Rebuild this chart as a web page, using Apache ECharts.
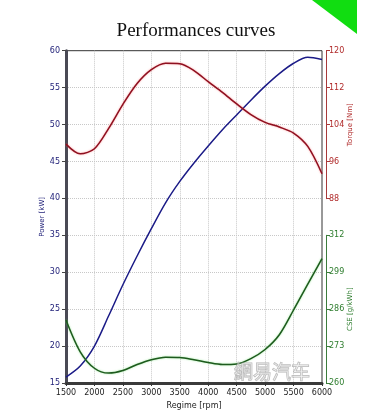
<!DOCTYPE html>
<html>
<head>
<meta charset="utf-8">
<script src="https://cdn.jsdelivr.net/npm/echarts@6/dist/echarts.min.js"></script>
<style>
  html, body { margin: 0; padding: 0; background: #fff; }
  #chart { width: 377px; height: 419px; }
</style>
</head>
<body>
<div id="chart"></div>
<script>
// 转速 (rpm)
var rpm = [1500, 1750, 2000, 2250, 2500, 2750, 3000, 3250, 3500, 3750,
           4000, 4250, 4500, 4750, 5000, 5250, 5500, 5750, 6000];
// 功率 Power [kW]
var power = [15.8, 17.3, 20.0, 24.1, 28.3, 32.2, 35.9, 39.4, 42.3, 44.8,
             47.1, 49.3, 51.3, 53.3, 55.2, 56.9, 58.3, 59.1, 58.8];
// 扭矩 Torque [Nm]
var torque = [99.8, 97.7, 98.8, 103.2, 108.4, 112.9, 115.9, 117.3, 117.2, 115.7,
              113.3, 111.0, 108.5, 106.2, 104.5, 103.5, 102.2, 99.3, 93.4];
// 油耗 CSE [g/kWh]
var cse = [282.2, 271.0, 265.2, 263.5, 264.4, 266.5, 268.2, 269.1, 269.0, 268.2,
           267.2, 266.5, 266.7, 268.6, 271.8, 277.0, 285.7, 294.8, 303.8];

var xTicks = [1500, 6000, 500];      // min, max, interval
var powerTicks = [15, 60, 5];
var torqueTicks = [88, 120, 8];
var cseTicks = [260, 312, 13];

function pairs(ys) {
    return rpm.map(function (x, i) { return [x, ys[i]]; });
}

var labelFont = 'DejaVu Sans';

function hiddenX(idx) {
    return {
        type: 'value', gridIndex: idx, min: xTicks[0], max: xTicks[1], interval: xTicks[2],
        show: false
    };
}

var dotted = { show: true, showMinLine: false, showMaxLine: false,
               lineStyle: { color: '#c8c8c8', type: 'dotted' } };

var chart = echarts.init(document.getElementById('chart'));

var option = {
    animation: false,
    grid: [
        { left: 66, right: 55, top: 50.7, bottom: 36, show: true, borderColor: '#333', borderWidth: 1 },
        { left: 66, right: 55, top: 50.7, height: 148 },
        { left: 66, right: 55, top: 235.3, bottom: 36 }
    ],
    xAxis: [
        {
            type: 'value', gridIndex: 0, min: xTicks[0], max: xTicks[1], interval: xTicks[2],
            name: 'Regime [rpm]', nameLocation: 'middle', nameGap: 17,
            nameTextStyle: { fontSize: 8, color: '#222', fontFamily: labelFont },
            axisLine: { lineStyle: { color: '#3a3a3a', width: 3 } },
            axisTick: { show: true, length: 3, lineStyle: { color: '#333' } },
            axisLabel: { fontSize: 8, color: '#222', fontFamily: labelFont, margin: 6,
                         formatter: function (v) { return String(v); } },
            splitLine: dotted
        },
        hiddenX(1),
        hiddenX(2)
    ],
    yAxis: [
        {
            type: 'value', gridIndex: 0, min: powerTicks[0], max: powerTicks[1], interval: powerTicks[2],
            name: 'Power [kW]', nameLocation: 'middle', nameGap: 20, nameRotate: 90,
            nameMoveOverlap: false,
            nameTextStyle: { fontSize: 7, color: '#23237a', fontFamily: labelFont },
            axisLine: { show: true, lineStyle: { color: '#4a4a55', width: 3 } },
            axisTick: { show: true, length: 4, lineStyle: { color: '#444' } },
            axisLabel: { fontSize: 8, color: '#23237a', fontFamily: labelFont, margin: 6 },
            splitLine: dotted
        },
        {
            type: 'value', gridIndex: 1, position: 'right', offset: 4,
            min: torqueTicks[0], max: torqueTicks[1], interval: torqueTicks[2],
            name: 'Torque [Nm]', nameLocation: 'middle', nameGap: 21, nameRotate: 90,
            nameMoveOverlap: false,
            nameTextStyle: { fontSize: 7, color: '#b02a2a', fontFamily: labelFont },
            axisLine: { show: true, lineStyle: { color: '#a83a3a', width: 1 } },
            axisTick: { show: true, length: 4, lineStyle: { color: '#a83a3a' } },
            axisLabel: { fontSize: 8, color: '#b02a2a', fontFamily: labelFont, margin: 3 },
            splitLine: { show: false }
        },
        {
            type: 'value', gridIndex: 2, position: 'right', offset: 4,
            min: cseTicks[0], max: cseTicks[1], interval: cseTicks[2],
            name: 'CSE [g/kWh]', nameLocation: 'middle', nameGap: 21, nameRotate: 90,
            nameMoveOverlap: false,
            nameTextStyle: { fontSize: 7, color: '#2e7d2e', fontFamily: labelFont },
            axisLine: { show: true, lineStyle: { color: '#3c7c3c', width: 1 } },
            axisTick: { show: true, length: 4, lineStyle: { color: '#3c7c3c' } },
            axisLabel: { fontSize: 8, color: '#2e7d2e', fontFamily: labelFont, margin: 3 },
            splitLine: { show: false }
        }
    ],
    series: [
        {
            name: 'Power', type: 'line', xAxisIndex: 0, yAxisIndex: 0,
            data: pairs(power), smooth: 0.3, showSymbol: false,
            lineStyle: { color: '#1b1b87', width: 1.5 }
        },
        {
            name: 'Torque', type: 'line', xAxisIndex: 1, yAxisIndex: 1,
            data: pairs(torque), smooth: 0.3, showSymbol: false,
            lineStyle: { color: '#8e1020', width: 1.5, shadowColor: 'rgba(255,90,90,0.6)', shadowBlur: 2 }
        },
        {
            name: 'CSE', type: 'line', xAxisIndex: 2, yAxisIndex: 2,
            data: pairs(cse), smooth: 0.3, showSymbol: false,
            lineStyle: { color: '#1e5a1e', width: 1.5, shadowColor: 'rgba(90,220,90,0.6)', shadowBlur: 2 }
        }
    ],
    graphic: [
        {
            type: 'polygon',
            shape: { points: [[312, 0], [357, 0], [357, 34]] },
            style: { fill: '#11dd11' }
        },
        {
            type: 'text', x: 196, y: 31,
            style: {
                text: 'Performances curves', textAlign: 'center', textVerticalAlign: 'middle',
                font: '19px "Liberation Serif"', fill: '#111'
            }
        },
        {
            type: 'text', x: 272, y: 372, z: 10,
            style: {
                text: '網易汽车', textAlign: 'center', textVerticalAlign: 'middle',
                font: '19px "Noto Sans CJK SC"', fill: 'rgba(255,255,255,0.4)',
                stroke: 'rgba(150,150,150,0.7)', lineWidth: 1
            }
        }
    ]
};

chart.setOption(option);
</script>
</body>
</html>
